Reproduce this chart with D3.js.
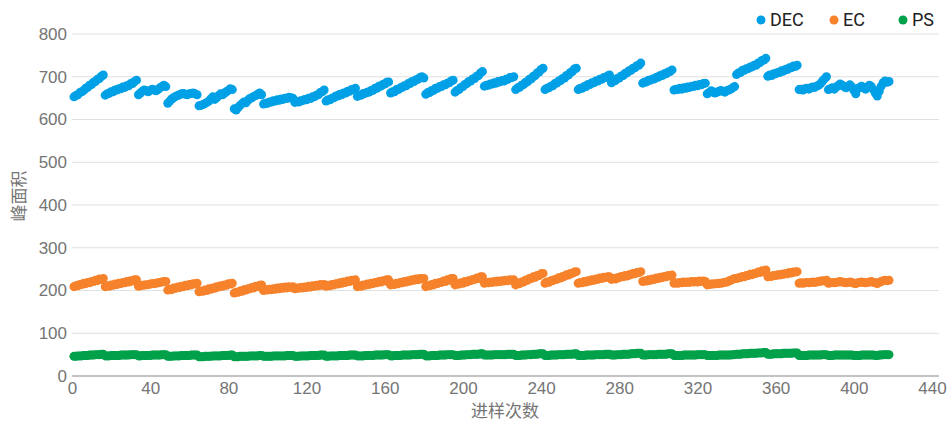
<!DOCTYPE html>
<html>
<head>
<meta charset="utf-8">
<script src="https://cdn.jsdelivr.net/npm/d3@7"></script>
<style>
    body { margin: 0; background: #fff; }
    svg { display: block; font-family: Roboto, "Noto Sans CJK SC", sans-serif; }
</style>
</head>
<body>
<div id="chart"></div>
<script>
// series names
var seriesNames = ["DEC", "EC", "PS"];

// tick labels
var xTicks = [0, 40, 80, 120, 160, 200, 240, 280, 320, 360, 400, 440];
var yTicks = [0, 100, 200, 300, 400, 500, 600, 700, 800];

// peak area per injection, injection number = index + 1
var decValues = [
    653,656,658,663,665,668,673,675,680,682,687,689,694,696,701,704,
    657,660,661,665,665,669,669,672,672,676,675,679,679,684,684,689,692,
    658,662,666,669,667,665,668,671,669,667,670,674,677,680,677,
    638,643,648,651,654,656,658,660,661,659,658,660,661,662,660,658,
    632,633,635,637,640,643,648,653,647,651,656,660,658,662,665,668,672,670,
    625,622,628,633,637,641,639,645,649,651,654,656,659,662,658,
    636,638,638,641,641,644,643,646,645,648,647,650,649,652,651,650,
    640,642,641,644,644,647,646,650,649,653,653,657,658,663,665,669,
    643,646,646,650,651,655,655,659,658,662,662,666,666,670,670,673,
    654,657,657,661,661,664,664,668,668,673,673,678,678,682,683,687,688,
    662,665,665,670,670,674,675,679,679,684,684,689,689,693,694,698,700,697,
    659,663,663,668,668,673,673,677,677,681,681,685,686,690,692,
    664,668,670,675,677,682,684,689,690,695,696,701,703,709,712,
    678,680,680,683,683,686,685,689,688,691,690,694,694,698,698,700,
    670,674,675,680,682,687,688,694,695,701,703,709,711,717,720,
    670,673,674,678,679,684,685,690,691,696,697,703,704,710,712,718,720,
    670,673,673,677,677,682,682,686,686,690,690,694,694,698,698,702,704,
    686,690,691,696,697,702,703,708,709,714,715,720,721,726,727,732,
    685,688,688,692,692,695,695,699,699,703,703,707,707,711,712,716,
    669,671,670,673,671,674,673,676,675,678,677,680,679,682,681,684,685,
    660,663,667,665,662,664,666,668,666,664,667,669,671,674,677,
    705,709,710,715,715,719,719,723,723,727,727,732,733,738,739,743,
    701,704,703,707,707,710,710,714,713,717,717,721,721,725,724,727,
    670,671,669,672,673,671,674,676,675,678,680,684,690,695,700,
    670,672,674,671,676,679,683,680,677,674,678,681,676,668,660,
    672,675,678,674,671,676,680,677,670,662,655,
    666,678,686,690,687,689
];

var ecValues = [
    209,211,211,214,214,217,216,219,218,221,221,224,223,227,226,228,
    209,211,210,213,212,215,214,217,216,219,218,221,220,223,222,225,225,
    210,211,212,213,213,214,215,216,216,217,218,219,220,221,221,
    201,203,202,206,205,208,207,210,209,212,211,214,213,216,215,217,
    197,199,198,201,200,204,203,206,205,209,208,211,210,213,212,216,215,217,
    194,196,196,199,198,202,201,204,204,207,206,210,209,212,213,
    200,202,201,203,202,204,203,206,204,207,205,208,206,209,207,209,
    204,206,205,207,206,208,207,210,208,211,210,212,211,214,212,214,
    210,212,211,214,213,216,215,218,217,220,219,222,221,224,223,225,
    209,211,210,213,212,215,214,217,216,219,218,221,220,223,222,225,225,
    213,215,214,217,216,219,218,221,220,223,222,225,224,227,225,228,227,228,
    209,211,211,214,213,217,216,219,219,222,221,225,224,228,228,
    213,215,215,218,217,221,220,223,223,226,226,229,228,232,232,
    217,219,218,220,219,221,220,222,221,223,222,224,223,225,224,225,
    213,216,216,220,220,224,224,228,228,232,231,235,235,239,240,
    217,220,219,223,223,226,226,230,229,233,233,237,236,240,240,243,244,
    217,219,218,221,220,223,222,225,224,227,226,229,228,231,230,232,232,
    226,228,227,230,230,233,232,235,234,237,237,240,239,242,242,244,
    221,223,222,225,224,227,226,229,228,231,230,233,232,235,234,236,
    217,218,217,219,218,220,219,220,219,221,220,221,220,222,221,222,221,
    213,214,215,215,216,216,217,217,218,219,220,222,224,226,228,
    228,230,230,233,232,235,235,238,237,240,240,243,242,246,245,248,
    232,234,233,235,235,237,236,238,238,240,239,242,241,243,243,244,
    217,218,217,218,219,218,219,220,219,220,221,222,222,223,224,
    217,218,219,218,219,220,221,220,219,218,219,220,219,217,216,
    218,219,220,219,218,219,220,221,219,218,216,
    219,221,223,224,223,224
];

var psValues = [
    46,46,47,47,47,48,48,48,49,49,49,50,50,50,51,51,
    47,47,47,48,48,48,48,48,49,49,49,49,49,50,50,50,50,
    47,47,48,48,48,48,48,49,49,49,49,49,50,50,50,
    46,46,46,47,47,47,47,48,48,48,48,48,49,49,49,49,
    45,45,45,46,46,46,46,47,47,47,47,47,48,48,48,48,49,49,
    45,45,45,46,46,46,46,46,47,47,47,47,47,48,48,
    46,46,46,46,46,47,47,47,47,47,47,47,48,48,48,48,
    46,46,46,47,47,47,47,47,48,48,48,48,48,49,49,49,
    46,46,47,47,47,47,47,48,48,48,48,48,49,49,49,49,
    47,47,47,47,48,48,48,48,48,49,49,49,49,49,50,50,50,
    47,47,48,48,48,48,49,49,49,49,49,50,50,50,50,51,51,51,
    47,47,47,48,48,48,48,49,49,49,49,50,50,50,50,
    48,48,48,49,49,49,50,50,50,51,51,51,51,52,52,
    49,49,49,49,49,50,50,50,50,50,50,50,51,51,51,51,
    48,48,48,49,49,49,50,50,50,51,51,51,52,52,52,
    48,48,48,49,49,49,49,50,50,50,50,51,51,51,51,52,52,
    48,48,48,48,49,49,49,49,49,50,50,50,50,50,51,51,51,
    49,49,49,50,50,50,51,51,51,51,52,52,52,53,53,53,
    49,49,49,50,50,50,50,50,51,51,51,51,51,52,52,52,
    48,48,48,48,48,49,49,49,49,49,49,49,50,50,50,50,50,
    48,48,48,48,48,48,49,49,49,49,49,49,49,50,50,
    51,51,51,52,52,52,52,53,53,53,53,54,54,54,55,55,
    51,51,51,52,52,52,52,52,53,53,53,53,53,54,54,54,
    48,48,48,48,48,49,49,49,49,49,49,49,50,50,50,
    48,48,48,49,49,49,49,49,49,49,49,49,49,48,48,
    48,48,49,49,49,49,49,49,49,48,48,
    49,49,50,50,50,50
];

var app = app || {};

app.ScatterChart = (function () {
    'use strict';

    var init = function (baseElement) {
        var config = configure(d3.select(baseElement));
        structure(config);
        axes(config);
        points(config);
        legend(config);
        return config;
    };

    var configure = function (base) {
        var colors = {
            DEC: "#00a0e6", // blue
            EC: "#f6822b",  // orange
            PS: "#00a14a"   // green
        };

        var m = {
            width: 951,
            height: 421,
            left: 72,
            right: 932,
            top: 34,
            bottom: 376,
            lineEnd: 939
        };

        var x = d3.scaleLinear().domain([0, 440]).range([m.left, m.right]);
        var y = d3.scaleLinear().domain([0, 800]).range([m.bottom, m.top]);

        var series = [
            { name: seriesNames[0], values: decValues },
            { name: seriesNames[1], values: ecValues },
            { name: seriesNames[2], values: psValues }
        ];

        return { base: base, m: m, x: x, y: y, colors: colors, series: series };
    };

    var structure = function (config) {
        config.svg = config.base.append("svg")
            .attr("width", config.m.width)
            .attr("height", config.m.height);
    };

    var axes = function (config) {
        var svg = config.svg, m = config.m, x = config.x, y = config.y;

        // horizontal grid
        svg.append("g").selectAll("line")
            .data(yTicks.filter(function (d) { return d > 0; }))
            .enter().append("line")
            .attr("x1", m.left)
            .attr("x2", m.lineEnd)
            .attr("y1", function (d) { return y(d); })
            .attr("y2", function (d) { return y(d); })
            .attr("stroke", "#e0e0e0")
            .attr("stroke-width", 1);

        // y tick labels
        var yAxis = d3.axisLeft(y).tickValues(yTicks).tickSize(0).tickPadding(5);
        var gy = svg.append("g")
            .attr("transform", "translate(" + m.left + ",0)")
            .call(yAxis);
        gy.select(".domain").remove();
        gy.selectAll("text")
            .attr("fill", "#757575")
            .style("font-size", "17px");

        // x axis
        var xAxis = d3.axisBottom(x).tickValues(xTicks).tickSize(0).tickPadding(6);
        var gx = svg.append("g")
            .attr("transform", "translate(0," + m.bottom + ")")
            .call(xAxis);
        gx.select(".domain").remove();
        gx.selectAll("text")
            .attr("fill", "#757575")
            .style("font-size", "17px");

        svg.append("line")
            .attr("x1", m.left)
            .attr("x2", m.lineEnd)
            .attr("y1", m.bottom)
            .attr("y2", m.bottom)
            .attr("stroke", "#888")
            .attr("stroke-width", 1);

        // axis titles
        svg.append("text")
            .attr("transform", "translate(25,196) rotate(-90)")
            .attr("text-anchor", "middle")
            .attr("fill", "#757575")
            .style("font-size", "17px")
            .text("峰面积");

        svg.append("text")
            .attr("x", 505)
            .attr("y", 417)
            .attr("text-anchor", "middle")
            .attr("fill", "#757575")
            .style("font-size", "17px")
            .text("进样次数");
    };

    var points = function (config) {
        config.series.forEach(function (s) {
            config.svg.append("g")
                .selectAll("circle")
                .data(s.values)
                .enter()
                .append("circle")
                .attr("cx", function (d, i) { return config.x(i + 1); })
                .attr("cy", function (d) { return config.y(d); })
                .attr("r", 4.5)
                .attr("fill", config.colors[s.name]);
        });
    };

    var legend = function (config) {
        var pos = [761, 834, 903];
        var g = config.svg.append("g");
        seriesNames.forEach(function (name, i) {
            g.append("circle")
                .attr("cx", pos[i])
                .attr("cy", 20)
                .attr("r", 4.5)
                .attr("fill", config.colors[name]);
            g.append("text")
                .attr("x", pos[i] + 9)
                .attr("y", 26)
                .attr("fill", "#212121")
                .style("font-size", "18px")
                .text(name);
        });
    };

    return {
        init: init
    };
}());

app.ScatterChart.init("#chart");
</script>
</body>
</html>
